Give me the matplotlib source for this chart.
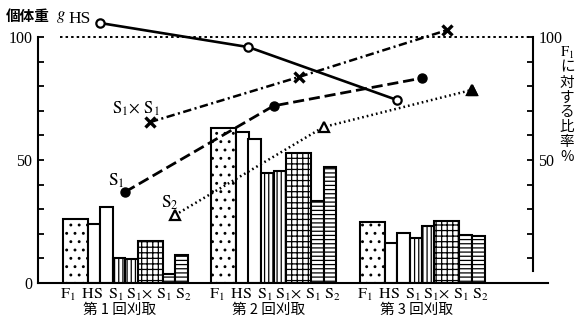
import numpy as np
import matplotlib.pyplot as plt

plt.rcParams['font.family'] = ['Liberation Serif', 'Noto Sans CJK JP']
plt.rcParams['mathtext.fontset'] = 'stix'
plt.rcParams['hatch.linewidth'] = 0.9
plt.rcParams['lines.scale_dashes'] = False

# dry weight per plant (g) for each cutting
cuts = ['第 1 回刈取', '第 2 回刈取', '第 3 回刈取']
f1 = [26.0, 63.0, 24.8]
hs = [[24.0, 31.0], [61.4, 58.5], [16.2, 20.3]]
s1 = [[10.3, 9.6], [44.7, 45.5], [18.3, 23.2]]
s1xs1 = [17.2, 52.8, 25.2]
s2 = [[3.5, 11.4], [33.3, 47.2], [19.5, 19.1]]

# ratio to F1 (%)
hs_ratio = [105.7, 95.9, 74.4]
s1xs1_ratio = [65.4, 83.7, 102.8]
s1_ratio = [37.0, 72.0, 83.3]
s2_ratio = [27.6, 63.4, 78.5]

bar_labels = r'$\mathrm{F_1\;\;HS\;\;S_1\,S_1\!\times\,S_1\;S_2}$'

gap = 5.94
g0 = np.arange(3) * gap

fig = plt.figure(figsize=(5.76, 3.22), dpi=100)
ax = fig.add_axes([38/576, 1-283/322, 510/576, 275.5/322])
ax.set_xlim(-1.48, 18.92)
ax.set_ylim(0, 112)

bk = dict(facecolor='white', edgecolor='black', linewidth=1.5)
pair = np.array([-0.25, 0.25])
for g in range(3):
    x = g0[g]
    ax.bar(x, f1[g], width=1, hatch='..', **bk)
    ax.bar(x + 1 + pair, hs[g], width=0.5, **bk)
    ax.bar(x + 2 + pair, s1[g], width=0.5, hatch='||||', **bk)
    ax.bar(x + 3, s1xs1[g], width=1, hatch='+++', **bk)
    ax.bar(x + 4 + pair, s2[g], width=0.5, hatch='----', **bk)
    ax.text(x + 2.05, -5.0, bar_labels, fontsize=11.5, ha='center', va='center', clip_on=False)
    ax.text(x + 1.8, -11.0, cuts[g], family='Noto Sans CJK JP', fontsize=10.5,
            ha='center', va='center', clip_on=False)

for s in ['top', 'right']:
    ax.spines[s].set_visible(False)
ax.spines['left'].set_bounds(0, 100)
ax.spines['left'].set_linewidth(1.5)
ax.spines['bottom'].set_linewidth(1.5)
ax.set_xticks([])
ax.set_yticks([0, 50, 100])
ax.set_yticks(np.arange(10, 100, 10), minor=True)
ax.tick_params(axis='y', which='both', direction='in', length=4, width=1.3, labelsize=11.5, pad=4)

# right axis: ratio to F1
ax2 = ax.twinx()
ax2.set_ylim(0, 112)
for s in ['top', 'left', 'bottom']:
    ax2.spines[s].set_visible(False)
ax2.spines['right'].set_position(('data', 18.32))
ax2.spines['right'].set_bounds(5, 100)
ax2.spines['right'].set_linewidth(1.5)
ax2.set_yticks([50, 100])
ax2.set_yticks(np.arange(10, 100, 10), minor=True)
ax2.tick_params(axis='y', which='both', direction='in', length=4, width=1.3, labelsize=11.5, pad=4)

ax2.hlines(100, -0.6, 18.32, colors='black', linewidth=1.4, linestyles=(0, (1.8, 2.2)))

ax2.plot(g0 + 1, hs_ratio, color='black', linewidth=1.9, marker='o', ms=6,
         mfc='white', mec='black', mew=1.6)
ax2.plot(g0 + 3, s1xs1_ratio, color='black', linewidth=1.8, dashes=(6, 2.5, 1.5, 2.5),
         marker='x', ms=7, mew=2.4)
ax2.plot(g0 + 2, s1_ratio, color='black', linewidth=2.0, dashes=(8, 3.5),
         marker='o', ms=6.5, mfc='black')
ax2.plot(g0 + 4, s2_ratio, color='black', linewidth=1.8, dashes=(1.2, 2.2),
         marker='^', ms=6.5, mfc='white', mec='black', mew=1.6)
ax2.plot(g0[2:] + 4, s2_ratio[2:], linestyle='none', marker='^', ms=7, color='black')

ax2.text(0.64, 107.3, 'HS', fontsize=12.5, ha='right', va='center')
ax2.text(2.44, 70.7, r'$\mathrm{S_1\!\times\,S_1}$', fontsize=12, ha='center', va='center')
ax2.text(1.66, 41.5, r'$\mathrm{S_1}$', fontsize=12.5, ha='center', va='center')
ax2.text(3.8, 32.7, r'$\mathrm{S_2}$', fontsize=12.5, ha='center', va='center')

fig.text(6/576, 1-16/322, '個体重', family='Noto Sans CJK JP', fontweight='bold',
         fontsize=10.5, ha='left', va='center')
fig.text(56/576, 1-17/322, r'$\mathit{g}$', fontsize=12, ha='left', va='center')

side = [r'$\mathrm{F_1}$', 'に', '対', 'す', 'る', '比', '率', '%']
for i, ch in enumerate(side):
    fig.text(567/576, 1-(53 + i*14.8)/322, ch, family=['Noto Sans CJK JP'],
             fontsize=10.5, ha='center', va='center')

fig.savefig('out.png', dpi=100)
